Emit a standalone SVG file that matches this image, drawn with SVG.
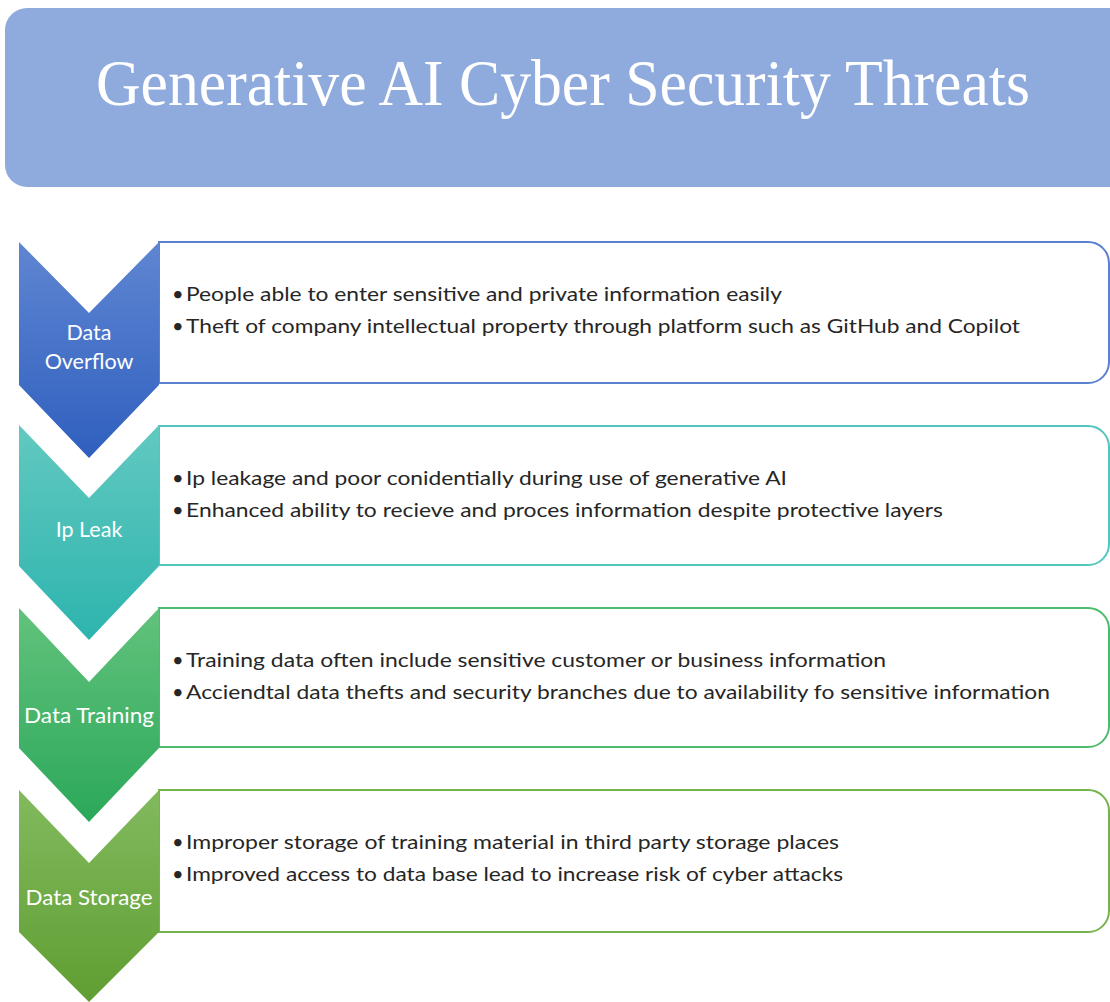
<svg xmlns="http://www.w3.org/2000/svg" width="1110" height="1002" viewBox="0 0 1110 1002">
  <style>
    .title { font-family: "Liberation Serif", "DejaVu Serif", serif; font-size: 65px; fill: #ffffff; }
    .lbl { font-family: Lato, "Open Sans", "Liberation Sans", sans-serif; font-size: 21.5px; fill: #ffffff; text-anchor: middle; }
    .body { font-family: Lato, "Open Sans", "Liberation Sans", sans-serif; font-size: 20px; fill: #262626; }
    .box { fill: #ffffff; stroke-width: 2; }
  </style>
  <defs>
    <linearGradient id="g1" x1="0" y1="0" x2="0" y2="1">
      <stop offset="0" stop-color="#5f86d2"/>
      <stop offset="1" stop-color="#2f5fbe"/>
    </linearGradient>
    <linearGradient id="g2" x1="0" y1="0" x2="0" y2="1">
      <stop offset="0" stop-color="#62c9c0"/>
      <stop offset="1" stop-color="#2db4ae"/>
    </linearGradient>
    <linearGradient id="g3" x1="0" y1="0" x2="0" y2="1">
      <stop offset="0" stop-color="#62c27c"/>
      <stop offset="1" stop-color="#2ba85a"/>
    </linearGradient>
    <linearGradient id="g4" x1="0" y1="0" x2="0" y2="1">
      <stop offset="0" stop-color="#82ba5e"/>
      <stop offset="1" stop-color="#5f9e32"/>
    </linearGradient>
  </defs>

  <rect width="1110" height="1002" fill="#ffffff"/>

  <g id="title">
    <rect x="5" y="8" width="1130" height="179" rx="22" ry="22" fill="#8faadc"/>
    <text class="title" x="96" y="105" textLength="934" lengthAdjust="spacingAndGlyphs">Generative AI Cyber Security Threats</text>
  </g>

  <g id="connectors"></g>

  <g id="node-data-overflow">
    <path class="box" stroke="#5b80d0" d="M159,242 H1088 A21,21 0 0 1 1109,263 V362 A21,21 0 0 1 1088,383 H159 Z"/>
    <path fill="url(#g1)" d="M19,242 L89,313 L159,242 L159,385 L89,458 L19,385 Z"/>
    <text class="lbl" x="89" y="340">Data</text>
    <text class="lbl" x="89" y="369">Overflow</text>
    <text class="body" x="172" y="301">•</text>
    <text class="body" x="186" y="301" textLength="596" lengthAdjust="spacingAndGlyphs">People able to enter sensitive and private information easily</text>
    <text class="body" x="172" y="333">•</text>
    <text class="body" x="186" y="333" textLength="834" lengthAdjust="spacingAndGlyphs">Theft of company intellectual property through platform such as GitHub and Copilot</text>
  </g>

  <g id="node-ip-leak">
    <path class="box" stroke="#52c6be" d="M159,426 H1088 A21,21 0 0 1 1109,447 V544 A21,21 0 0 1 1088,565 H159 Z"/>
    <path fill="url(#g2)" d="M19,425 L89,498 L159,425 L159,566 L89,640 L19,566 Z"/>
    <text class="lbl" x="89" y="537">Ip Leak</text>
    <text class="body" x="172" y="485">•</text>
    <text class="body" x="186" y="485" textLength="601" lengthAdjust="spacingAndGlyphs">Ip leakage and poor conidentially during use of generative AI</text>
    <text class="body" x="172" y="517">•</text>
    <text class="body" x="186" y="517" textLength="757" lengthAdjust="spacingAndGlyphs">Enhanced ability to recieve and proces information despite protective layers</text>
  </g>

  <g id="node-data-training">
    <path class="box" stroke="#4cbb6c" d="M159,608 H1088 A21,21 0 0 1 1109,629 V726 A21,21 0 0 1 1088,747 H159 Z"/>
    <path fill="url(#g3)" d="M19,608 L89,682 L159,608 L159,748 L89,822 L19,748 Z"/>
    <text class="lbl" x="89" y="723" textLength="130" lengthAdjust="spacingAndGlyphs">Data Training</text>
    <text class="body" x="172" y="667">•</text>
    <text class="body" x="186" y="667" textLength="700" lengthAdjust="spacingAndGlyphs">Training data often include sensitive customer or business information</text>
    <text class="body" x="172" y="699">•</text>
    <text class="body" x="186" y="699" textLength="864" lengthAdjust="spacingAndGlyphs">Acciendtal data thefts and security branches due to availability fo sensitive information</text>
  </g>

  <g id="node-data-storage">
    <path class="box" stroke="#74b34f" d="M159,790 H1088 A21,21 0 0 1 1109,811 V911 A21,21 0 0 1 1088,932 H159 Z"/>
    <path fill="url(#g4)" d="M19,790 L89,863 L159,790 L159,932 L89,1002 L19,932 Z"/>
    <text class="lbl" x="89" y="905" textLength="127" lengthAdjust="spacingAndGlyphs">Data Storage</text>
    <text class="body" x="172" y="849">•</text>
    <text class="body" x="186" y="849" textLength="653" lengthAdjust="spacingAndGlyphs">Improper storage of training material in third party storage places</text>
    <text class="body" x="172" y="881">•</text>
    <text class="body" x="186" y="881" textLength="657" lengthAdjust="spacingAndGlyphs">Improved access to data base lead to increase risk of cyber attacks</text>
  </g>
</svg>
